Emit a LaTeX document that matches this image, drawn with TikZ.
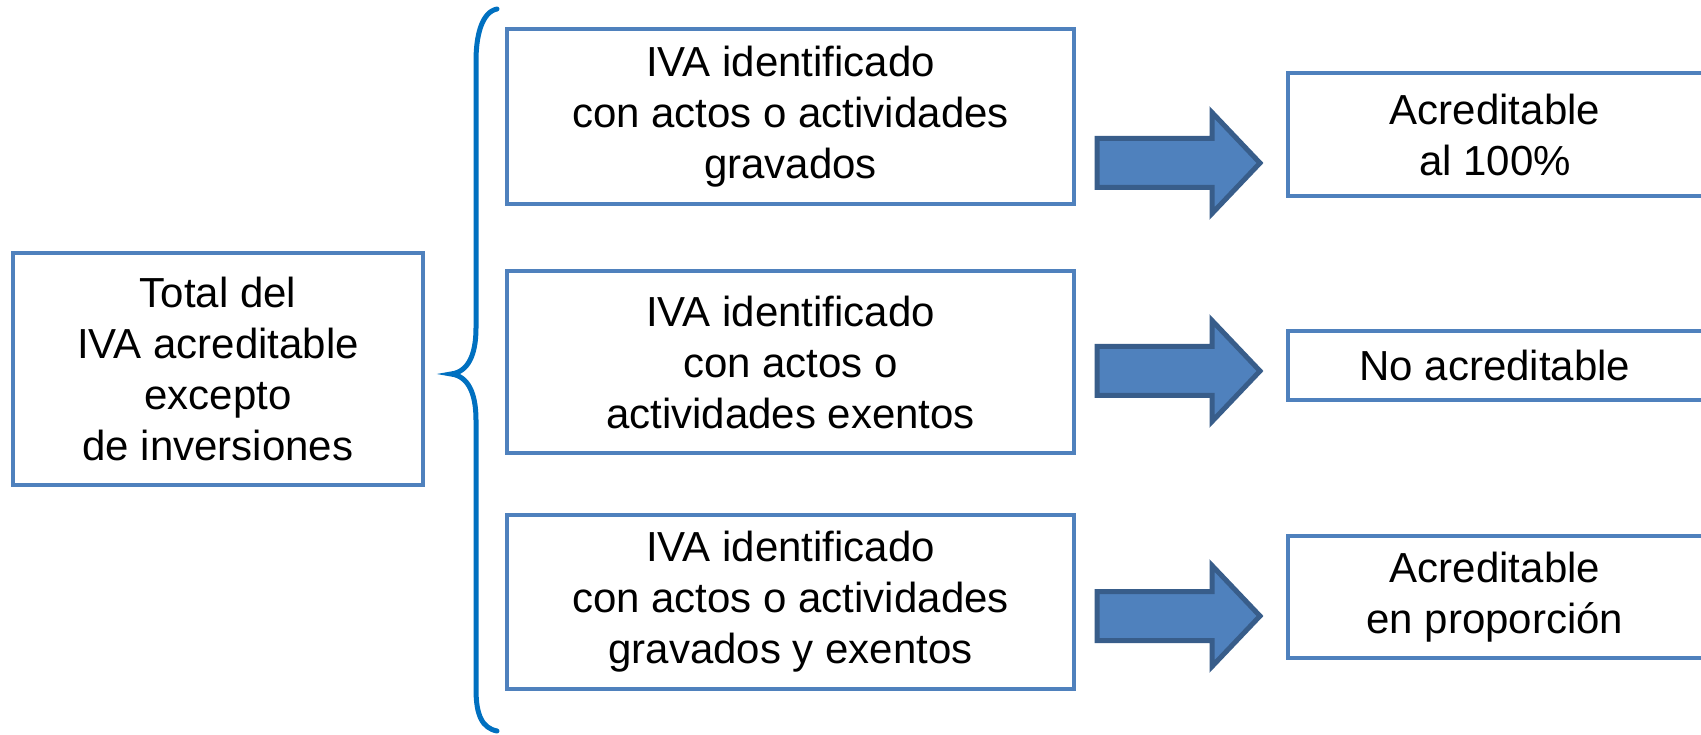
\documentclass[tikz,border=0pt]{standalone}
\usepackage{fontspec}
\setmainfont{Liberation Sans}
\definecolor{boxblue}{HTML}{4F81BD}
\definecolor{arrowedge}{HTML}{385D8A}
\definecolor{bracecol}{HTML}{0070C0}
\tikzset{
  box/.style={draw=boxblue, line width=4pt, fill=white, align=center, inner sep=0pt,
    font=\fontsize{42}{51}\selectfont},
  openbox/.style={box, draw=none, fill=none},
  boxline/.style={draw=boxblue, line width=4pt, fill=white},
  arrowstyle/.style={draw=arrowedge, fill=boxblue, line width=5pt, line join=miter},
  blockarrow/.pic={\draw[arrowstyle] (-81.5,-24.5) -- (33.5,-24.5) -- (33.5,-50.5) -- (81.5,0) -- (33.5,50.5) -- (33.5,24.5) -- (-81.5,24.5) -- cycle;}
}
\begin{document}
\begin{tikzpicture}[x=1pt,y=-1pt]
\clip (0,0) rectangle (1701,735);
\fill[white] (0,0) rectangle (1701,735);
% left box
\node[box, minimum width=410pt, minimum height=232pt] (total) at (218,369)
  {Total del\\IVA acreditable\\excepto\\de inversiones};
% brace
\coordinate (btop) at (497,9);
\coordinate (bbot) at (497,731);
\coordinate (btip) at (451,374);
\draw[bracecol, line width=5pt, line cap=round]
  (btop) .. controls (482,12) and (476,35) .. (476,61) -- (476,328)
  .. controls (476,355) and (468,372) .. (btip)
  .. controls (468,376) and (476,393) .. (476,420) -- (476,689)
  .. controls (476,715) and (482,728) .. (bbot);
% middle boxes
\node[box, minimum width=567pt, minimum height=175pt] (m1) at (790.5,116.5)
  {IVA identificado\\con actos o actividades\\gravados};
\node[box, minimum width=567pt, minimum height=182pt] (m2) at (790.5,362)
  {IVA identificado\\con actos o\\actividades exentos};
\node[box, minimum width=567pt, minimum height=174pt] (m3) at (790.5,602)
  {IVA identificado\\con actos o actividades\\gravados y exentos};
% right boxes (run past the right edge)
\path[boxline] (1288,73) rectangle (1730,196);
\path[boxline] (1288,331) rectangle (1730,400);
\path[boxline] (1288,536) rectangle (1730,658);
\node[openbox, minimum width=414pt, minimum height=123pt] (r1) at (1495,134.5)
  {Acreditable\\al 100\%};
\node[openbox, minimum width=414pt, minimum height=69pt] (r2) at (1495,365.5)
  {No acreditable};
\node[openbox, minimum width=414pt, minimum height=122pt] (r3) at (1495,597)
  {Acreditable\\en proporción};
% block arrows
\pic at (1178.5,163) {blockarrow};
\pic at (1178.5,371) {blockarrow};
\pic at (1178.5,616) {blockarrow};
\end{tikzpicture}
\end{document}
